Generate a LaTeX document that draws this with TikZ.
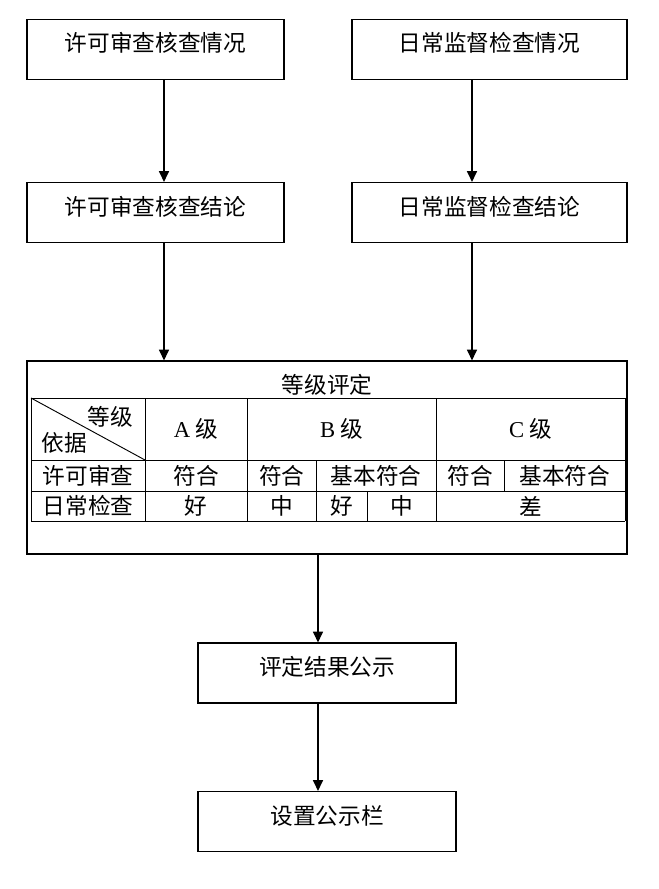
\documentclass[tikz,border=0pt]{standalone}
\usepackage{fontspec}
\setmainfont{Noto Sans CJK SC}
\newfontfamily\latinrm{Liberation Serif}
\usetikzlibrary{arrows.meta,calc}

\begin{document}
\begin{tikzpicture}[x=0.75pt,y=-0.75pt,
		box/.style={draw, line width=0.9pt, minimum height=45pt, inner sep=0pt, text height=12pt, text depth=8pt, font=\fontsize{17pt}{20pt}\selectfont},
		arr/.style={-{Triangle[width=7.5pt,length=8pt]}, line width=0.9pt},
		cell/.style={inner sep=0pt, font=\fontsize{17pt}{20pt}\selectfont},
		rule/.style={line width=0.7pt}]

		\useasboundingbox (0,0) rectangle (658,889);

		\node[box, minimum width=192.75pt] (permitsit) at (155.5,49.3) {许可审查核查情况};
		\node[box, minimum width=206.25pt] (dailysit) at (489.5,49.3) {日常监督检查情况};
		\node[box, minimum width=192.75pt] (permitres) at (155.5,212.5) {许可审查核查结论};
		\node[box, minimum width=206.25pt] (dailyres) at (489.5,212.5) {日常监督检查结论};

		\node[box, minimum width=450pt, minimum height=144.75pt] (grade) at (327,457.5) {};
		\node[cell] (gradetitle) at (327,385) {等级评定};

		\foreach \y in {398,460,491,521}
			\draw[rule] (31,\y) -- (625,\y);
		\foreach \x in {31,145,247,436,625}
			\draw[rule] (\x,398) -- (\x,521);
		\draw[rule] (316.5,460) -- (316.5,521);
		\draw[rule] (504.5,460) -- (504.5,491);
		\draw[rule] (367.5,491) -- (367.5,521);
		\draw[rule] (31,398) -- (145,460);

		\node[cell] (hdlevel) at (110,417) {等级};
		\node[cell] (hdbasis) at (64,443) {依据};
		\node[cell] (lva) at (196,429) {{\latinrm A} 级};
		\node[cell] (lvb) at (341.5,429) {{\latinrm B} 级};
		\node[cell] (lvc) at (530.5,429) {{\latinrm C} 级};

		\node[cell] (rowpermit) at (88,475.5) {许可审查};
		\node[cell] (pa) at (196,475.5) {符合};
		\node[cell] (pba) at (281.75,475.5) {符合};
		\node[cell] (pbb) at (376.25,475.5) {基本符合};
		\node[cell] (pca) at (470.25,475.5) {符合};
		\node[cell] (pcb) at (564.75,475.5) {基本符合};

		\node[cell] (rowdaily) at (88,506) {日常检查};
		\node[cell] (da) at (196,506) {好};
		\node[cell] (dba) at (281.75,506) {中};
		\node[cell] (dbb) at (342,506) {好};
		\node[cell] (dbc) at (401.75,506) {中};
		\node[cell] (dc) at (530.5,506) {差};

		\node[box, minimum width=193.5pt] (publish) at (327,673) {评定结果公示};
		\node[box, minimum width=193.5pt] (board) at (327,821.5) {设置公示栏};

		\coordinate (pl) at ($(permitres.south)+(8.5,0)$);
		\coordinate (dl) at ($(dailyres.south)+(-17.5,0)$);
		\coordinate (gl) at ($(grade.south)+(-9,0)$);

		\draw[arr] ($(permitsit.south)+(8.5,0)$) -- ($(permitres.north)+(8.5,0)$);
		\draw[arr] ($(dailysit.south)+(-17.5,0)$) -- ($(dailyres.north)+(-17.5,0)$);
		\draw[arr] (pl) -- (pl |- grade.north);
		\draw[arr] (dl) -- (dl |- grade.north);
		\draw[arr] (gl) -- (gl |- publish.north);
		\draw[arr] ($(publish.south)+(-9,0)$) -- ($(board.north)+(-9,0)$);
	\end{tikzpicture}
\end{document}
